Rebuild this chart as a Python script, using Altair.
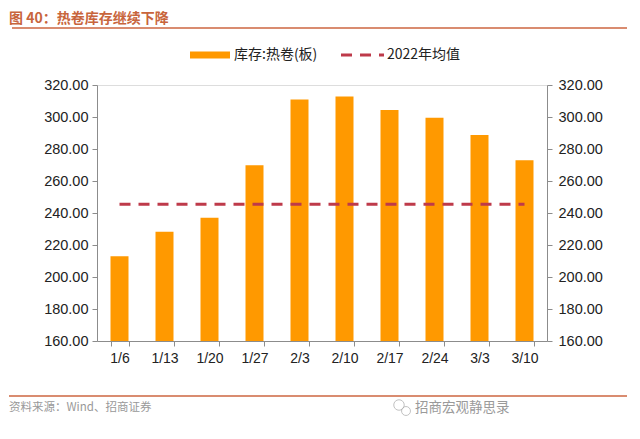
import altair as alt
import pandas as pd

dates = ["1/6", "1/13", "1/20", "1/27", "2/3", "2/10", "2/17", "2/24", "3/3", "3/10"]
stock = [213.0, 228.3, 237.0, 269.8, 310.9, 312.8, 304.3, 299.6, 288.8, 273.0]
avg_2022 = 245.5
y_domain = [160, 320]
y_ticks = [160, 180, 200, 220, 240, 260, 280, 300, 320]

title_text = "图 40：热卷库存继续下降"
legend_bar = "库存:热卷(板)"
legend_line = "2022年均值"
source_text = "资料来源：Wind、招商证券"
watermark = "招商宏观静思录"

df = pd.DataFrame({"date": dates, "stock": stock, "avg": [avg_2022] * len(dates)})

W, H = 450, 256
CJK = "Noto Sans CJK SC"
NUM = "Liberation Sans"
GRAY = "#8c8c8c"
ORANGE = "#FF9900"
RED = "#BE3A4A"
TITLE_C = "#C8653C"
LINE_C = "#D98C70"

xenc = alt.X("date:N", sort=dates, title=None,
             scale=alt.Scale(paddingInner=0.6, paddingOuter=0.3),
             axis=alt.Axis(labelAngle=0, tickBand="extent", domainColor=GRAY, tickColor=GRAY,
                           tickSize=5, labelFontSize=14, labelFont=NUM, labelColor="#222",
                           labelPadding=5))

yscale = alt.Scale(domain=y_domain, zero=False, nice=False)

base = alt.Chart(df)

bars = base.mark_bar(color=ORANGE).encode(
    x=xenc,
    y=alt.Y("stock:Q", scale=yscale, title=None,
            axis=alt.Axis(values=y_ticks, format=".2f", grid=False, domainColor=GRAY, tickColor=GRAY,
                          tickSize=5, labelFontSize=14.5, labelFont=NUM, labelColor="#222", labelPadding=4)),
    y2=alt.datum(160),
)

line = base.mark_line(color=RED, strokeDash=[11, 8], strokeWidth=3).encode(
    x=xenc,
    y=alt.Y("avg:Q", scale=yscale, axis=None),
)

right = base.mark_tick(opacity=0).encode(
    x=xenc,
    y=alt.Y("stock:Q", scale=yscale, title=None,
            axis=alt.Axis(orient="right", values=y_ticks, format=".2f", grid=False, domainColor=GRAY,
                          tickColor=GRAY, tickSize=5, labelFontSize=14.5, labelFont=NUM, labelColor="#222",
                          labelPadding=6)),
)

one = alt.Chart(pd.DataFrame({"a": [0]}))

title = one.mark_text(text=title_text, font=CJK, fontSize=14, fontWeight="bold", color=TITLE_C,
                      align="left", baseline="middle").encode(x=alt.value(-88), y=alt.value(-66))
title_rule = one.mark_rule(color=LINE_C, strokeWidth=2).encode(
    x=alt.value(-85), x2=alt.value(539), y=alt.value(-57))
foot_rule = one.mark_rule(color=LINE_C, strokeWidth=2).encode(
    x=alt.value(-88), x2=alt.value(539), y=alt.value(311))
source = one.mark_text(text=source_text, font=CJK, fontSize=11.5, color="#999999",
                       align="left", baseline="middle").encode(x=alt.value(-88), y=alt.value(323))
wm = one.mark_text(text=watermark, font=CJK, fontSize=13.5, color="#9a9a9a",
                   align="left", baseline="middle").encode(x=alt.value(318), y=alt.value(323))
icon1 = one.mark_point(shape="circle", filled=False, color="#aaaaaa", size=110, strokeWidth=1).encode(
    x=alt.value(302), y=alt.value(320))
icon2 = one.mark_point(shape="circle", filled=False, color="#aaaaaa", size=80, strokeWidth=1).encode(
    x=alt.value(309), y=alt.value(326))

leg_bar = one.mark_rule(color=ORANGE, strokeWidth=7).encode(
    x=alt.value(93), x2=alt.value(133), y=alt.value(-30))
leg_bar_t = one.mark_text(text=legend_bar, font=CJK, fontSize=14, color="#222",
                          align="left", baseline="middle").encode(x=alt.value(137), y=alt.value(-30))
leg_line = one.mark_rule(color=RED, strokeWidth=3, strokeDash=[11, 8]).encode(
    x=alt.value(244), x2=alt.value(287), y=alt.value(-30))
leg_line_t = one.mark_text(text=legend_line, font=CJK, fontSize=14, color="#222",
                           align="left", baseline="middle").encode(x=alt.value(290), y=alt.value(-30))

chart = alt.layer(
    bars, line, right, title, title_rule, foot_rule, source, wm, icon1, icon2,
    leg_bar, leg_bar_t, leg_line, leg_line_t,
).resolve_scale(y="independent").properties(
    width=W, height=H,
    padding={"left": 89, "top": 77, "right": 80, "bottom": 80},
    autosize=alt.AutoSizeParams(type="none"),
).configure_view(stroke=None).configure(background="white")

chart.save("out.html", embed_options={"renderer": "svg", "actions": False})
